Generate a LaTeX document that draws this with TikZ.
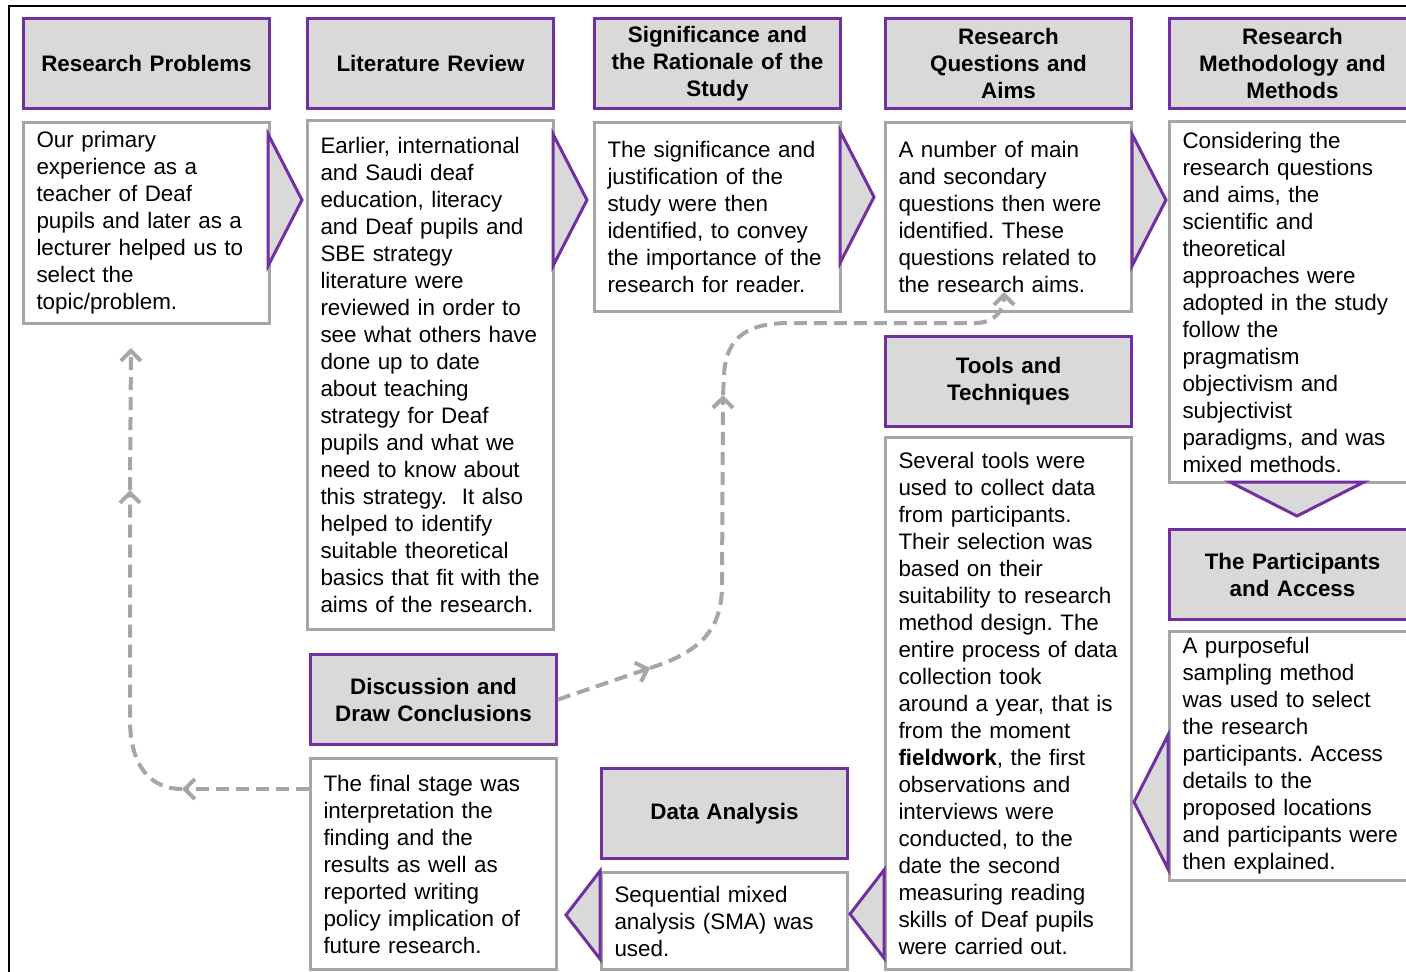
\documentclass[tikz,border=0pt]{standalone}
\usepackage{fontspec}
\setmainfont{Liberation Sans}
\usepackage{tikz}
\usetikzlibrary{calc,positioning,arrows.meta,shapes.geometric}
\definecolor{hpurple}{HTML}{7030A0}
\definecolor{hgray}{HTML}{D9D9D9}
\definecolor{bgray}{HTML}{A6A6A6}
\frenchspacing
\tikzstyle{head}  = [rectangle, anchor=north west, draw=hpurple, line width=1.5pt, fill=hgray, minimum width=123pt, minimum height=45pt, text width=115pt, inner sep=2pt, align=center, font=\bfseries\fontsize{11.2}{13.5}\selectfont]
\tikzstyle{txt}   = [rectangle, draw=bgray, line width=1.5pt, fill=white, minimum width=123pt, text width=110pt, inner xsep=6.5pt, inner ysep=3pt, align=left, font=\fontsize{11.2}{13.5}\selectfont]
\tikzstyle{chev}  = [isosceles triangle, isosceles triangle stretches, anchor=lower side, draw=hpurple, fill=hgray, line width=1.5pt, inner sep=0pt, outer sep=0pt, minimum height=17pt, minimum width=66pt]
\tikzstyle{flow}  = [line width=2pt, draw=bgray, dash pattern=on 6.5pt off 3.5pt, -{Straight Barb[length=5pt,width=10pt]}]

\begin{document}
\begin{tikzpicture}[x=0.5pt, y=-0.5pt]
		\clip (0,0) rectangle (1406,971);
		\draw[line width=1.2pt] (9,6) rectangle (1420,990);

		\node[head] (prob) at (22,17) {Research Problems};
		\node[txt, below=5.5pt of prob, minimum height=100.5pt] (probtxt) {Our primary\\experience as a\\teacher of Deaf\\pupils and later as a\\lecturer helped us to\\select the\\topic/problem.};

		\node[head] (lit) at (306,17) {Literature Review};
		\node[txt, below=4.5pt of lit, minimum height=254.5pt] (littxt) {Earlier, international\\and Saudi deaf\\education, literacy\\and Deaf pupils and\\SBE strategy\\literature were\\reviewed in order to\\see what others have\\done up to date\\about teaching\\strategy for Deaf\\pupils and what we\\need to know about\\this strategy.~ It also\\helped to identify\\suitable theoretical\\basics that fit with the\\aims of the research.};

		\node[head] (sig) at (593,17) {Significance and\\the Rationale of the\\Study};
		\node[txt, below=5.5pt of sig, minimum height=94.5pt] (sigtxt) {The significance and\\justification of the\\study were then\\identified, to convey\\the importance of the\\research for reader.};

		\node[head] (rq) at (884,17) {Research\\Questions and\\Aims};
		\node[txt, below=5.5pt of rq, minimum height=94.5pt] (rqtxt) {A number of main\\and secondary\\questions then were\\identified. These\\questions related to\\the research aims.};

		\node[head] (meth) at (1168,17) {Research\\Methodology and\\Methods};
		\node[txt, below=5pt of meth, minimum height=180.5pt] (methtxt) {Considering the\\research questions\\and aims, the\\scientific and\\theoretical\\approaches were\\adopted in the study\\follow the\\pragmatism\\objectivism and\\subjectivist\\paradigms, and was\\mixed methods.};

		\node[head] (part) at (1168,528) {The Participants\\and Access};
		\node[txt, below=4.5pt of part, minimum height=124pt] (parttxt) {A purposeful\\sampling method\\was used to select\\the research\\participants. Access\\details to the\\proposed locations\\and participants were\\then explained.};

		\node[head] (tools) at (884,335) {Tools and\\Techniques};
		\node[txt, below=4pt of tools, minimum height=266pt] (toolstxt) {Several tools were\\used to collect data\\from participants.\\Their selection was\\based on their\\suitability to research\\method design. The\\entire process of data\\collection took\\around a year, that is\\from the moment\\\textbf{fieldwork}, the first\\observations and\\interviews were\\conducted, to the\\date the second\\measuring reading\\skills of Deaf pupils\\were carried out.};

		\node[head] (ana) at (600,767) {Data Analysis};
		\node[txt, below=5.5pt of ana, minimum height=48.5pt] (anatxt) {Sequential mixed\\analysis (SMA) was\\used.};

		\node[head] (disc) at (309,653) {Discussion and\\Draw Conclusions};
		\node[txt, below=5.5pt of disc, minimum height=105.5pt] (disctxt) {The final stage was\\interpretation the\\finding and the\\results as well as\\reported writing\\policy implication of\\future research.};

		\node[chev] (ch1) at (268,200) {};
		\node[chev] (ch2) at (553,200) {};
		\node[chev] (ch3) at (840,197) {};
		\node[chev] (ch4) at (1132,200) {};
		\node[chev, rotate=-90, minimum width=67pt] (ch5) at (1297,482) {};
		\node[chev, rotate=180, minimum width=67pt] (ch6) at (1168,802) {};
		\node[chev, rotate=180, minimum width=44pt] (ch7) at (884,914) {};
		\node[chev, rotate=180, minimum width=44pt] (ch8) at (600,915) {};

		\coordinate (qa) at (650,668);
		\coordinate (qb) at (723,395);
		\coordinate (qc) at (1004,292);
		\draw[flow] (disc.east) -- (qa);
		\draw[flow] (qa) .. controls (700,652) and (722,630) .. (722,585) -- (qb);
		\draw[flow] (qb) -- (724,375) .. controls (726,335) and (750,323) .. (790,323) -- (975,323) .. controls (995,323) and (1004,310) .. (qc);

		\coordinate (pa) at (182,789);
		\coordinate (pb) at (130,490);
		\coordinate (pc) at (131,348);
		\draw[flow] (pa -| disctxt.west) -- (pa);
		\draw[flow] (pa) .. controls (150,789) and (130,765) .. (130,720) -- (pb);
		\draw[flow] (pb) -- (pc);
	\end{tikzpicture}
\end{document}
